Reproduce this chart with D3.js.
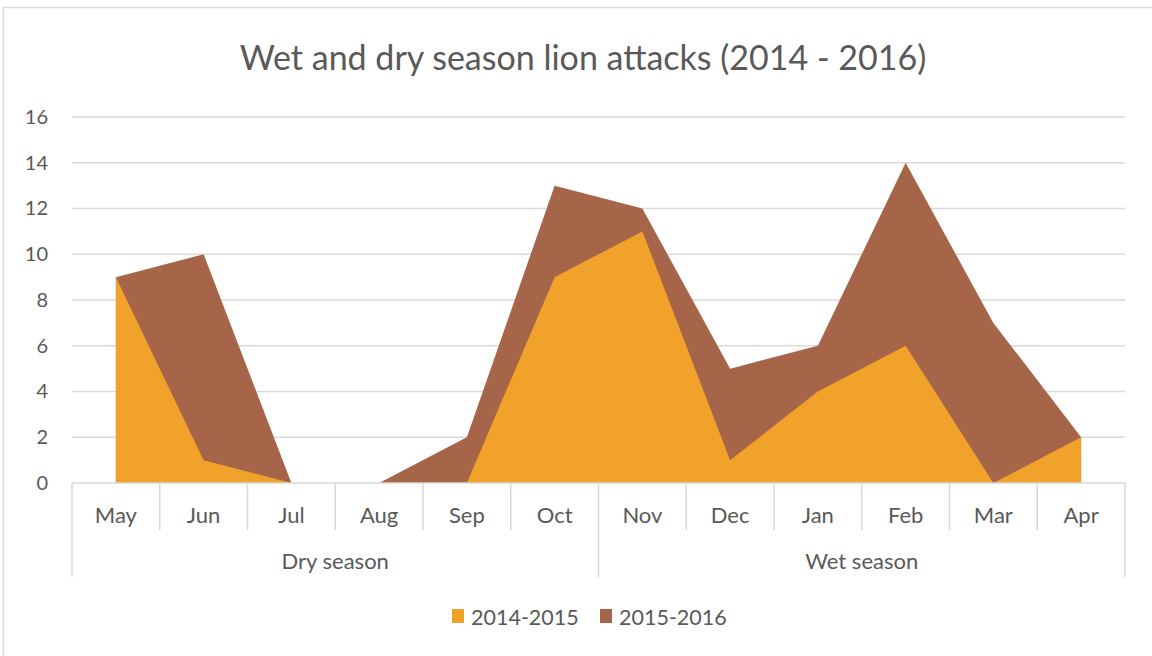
<!DOCTYPE html>
<html>
<head>
<meta charset="utf-8">
<script src="https://cdn.jsdelivr.net/npm/d3@7"></script>
<style>
  html, body { margin: 0; padding: 0; background: #fff; }
  svg { display: block; }
  text { font-family: Lato, "Open Sans", sans-serif; fill: #595959; }
</style>
</head>
<body>
<svg id="chart" width="1152" height="656"></svg>
<script>
// Monthly lion attacks, May through April
const months = ["May", "Jun", "Jul", "Aug", "Sep", "Oct", "Nov", "Dec", "Jan", "Feb", "Mar", "Apr"];
const seasons = [
  { name: "Dry season", from: 0, to: 5 },
  { name: "Wet season", from: 6, to: 11 }
];
const attacks2014 = [9, 1, 0, 0, 0, 9, 11, 1, 4, 6, 0, 2];
const attacks2015 = [9, 10, 0, 0, 2, 13, 12, 5, 6, 14, 7, 2];
const seriesNames = ["2014-2015", "2015-2016"];
const seriesColors = ["#F0A22A", "#A66548"];
const yTicks = [0, 2, 4, 6, 8, 10, 12, 14, 16];

const svg = d3.select("#chart");
const plotLeft = 72, plotRight = 1125, plotTop = 117, plotBottom = 483;

// chart frame
svg.append("rect")
  .attr("x", 3.5).attr("y", 7.5)
  .attr("width", 1160).attr("height", 700)
  .attr("fill", "none").attr("stroke", "#d9d9d9").attr("stroke-width", 1.5);

svg.append("text")
  .attr("x", 583).attr("y", 70)
  .attr("text-anchor", "middle")
  .attr("font-size", 34)
  .text("Wet and dry season lion attacks (2014 - 2016)");

const band = d3.scaleBand().domain(months).range([plotLeft, plotRight]).padding(0);
const x = m => band(m) + band.bandwidth() / 2;
const y = d3.scaleLinear().domain([0, 16]).range([plotBottom, plotTop]);

// horizontal gridlines
svg.append("g")
  .selectAll("line").data(yTicks.filter(t => t > 0)).join("line")
  .attr("x1", plotLeft).attr("x2", plotRight)
  .attr("y1", d => y(d)).attr("y2", d => y(d))
  .attr("stroke", "#d9d9d9").attr("stroke-width", 1.5);

// value axis
const yAxis = svg.append("g")
  .attr("transform", `translate(${plotLeft},0)`)
  .call(d3.axisLeft(y).tickValues(yTicks).tickSize(0).tickPadding(24));
yAxis.select(".domain").remove();
yAxis.selectAll("text")
  .attr("font-size", 20)
  .style("font-family", "Lato, 'Open Sans', sans-serif")
  .attr("fill", "#595959");

// areas: later season behind, earlier in front
const area = d3.area()
  .x((d, i) => x(months[i]))
  .y0(y(0))
  .y1(d => y(d));

svg.append("path").datum(attacks2015)
  .attr("d", area).attr("fill", seriesColors[1]);
svg.append("path").datum(attacks2014)
  .attr("d", area).attr("fill", seriesColors[0]);

// category axis: month cells and season groups
const axisG = svg.append("g");
axisG.append("line")
  .attr("x1", plotLeft).attr("x2", plotRight)
  .attr("y1", plotBottom).attr("y2", plotBottom)
  .attr("stroke", "#d9d9d9").attr("stroke-width", 1.5);

const monthEdges = months.map(m => band(m)).concat([plotRight]);
const seasonEdges = new Set(seasons.map(s => band(months[s.from]))).add(plotRight);
axisG.selectAll("line.edge").data(monthEdges).join("line")
  .attr("class", "edge")
  .attr("x1", d => d).attr("x2", d => d)
  .attr("y1", plotBottom)
  .attr("y2", d => seasonEdges.has(d) ? 577 : 530)
  .attr("stroke", "#d9d9d9").attr("stroke-width", 1.5);

axisG.selectAll("text.month").data(months).join("text")
  .attr("class", "month")
  .attr("x", d => x(d)).attr("y", 523)
  .attr("text-anchor", "middle")
  .attr("font-size", 22)
  .text(d => d);

axisG.selectAll("text.season").data(seasons).join("text")
  .attr("class", "season")
  .attr("x", d => (band(months[d.from]) + band(months[d.to]) + band.bandwidth()) / 2)
  .attr("y", 569)
  .attr("text-anchor", "middle")
  .attr("font-size", 22)
  .text(d => d.name);

// legend
const legend = svg.append("g");
const legendX = [452, 600];
seriesNames.forEach((name, i) => {
  legend.append("rect")
    .attr("x", legendX[i]).attr("y", 609)
    .attr("width", 12).attr("height", 14)
    .attr("fill", seriesColors[i]);
  legend.append("text")
    .attr("x", legendX[i] + 19).attr("y", 625)
    .attr("font-size", 21.5)
    .text(name);
});
</script>
</body>
</html>
